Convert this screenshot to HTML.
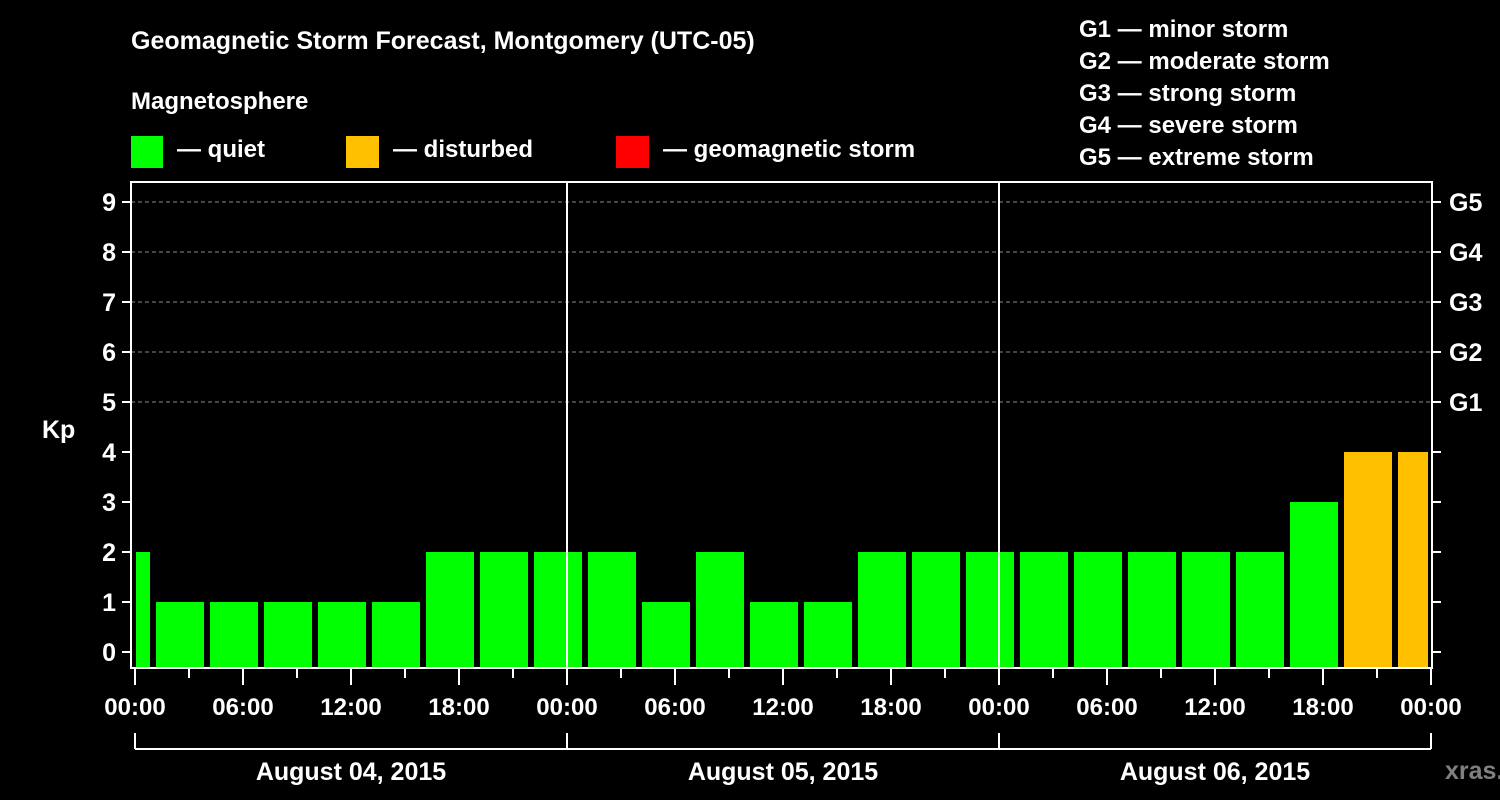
<!DOCTYPE html>
<html><head><meta charset="utf-8"><style>
body{margin:0;background:#000;width:1500px;height:800px;overflow:hidden}
svg{display:block;font-family:"Liberation Sans",sans-serif;font-weight:bold}
</style></head><body>
<svg id="chart" width="1500" height="800">
<text x="131" y="49" fill="#fff" font-size="25">Geomagnetic Storm Forecast, Montgomery (UTC-05)</text>
<text x="131" y="109" fill="#fff" font-size="24">Magnetosphere</text>
<g><rect x="131" y="136" width="32" height="32" fill="#00ff00"/><text x="177" y="157" fill="#fff" font-size="24">— quiet</text></g>
<g><rect x="346" y="136" width="33" height="32" fill="#ffc000"/><text x="393" y="157" fill="#fff" font-size="24">— disturbed</text></g>
<g><rect x="616" y="136" width="33" height="32" fill="#ff0000"/><text x="663" y="157" fill="#fff" font-size="24">— geomagnetic storm</text></g>
<g fill="#fff" font-size="24">
<text x="1079" y="37">G1 — minor storm</text><text x="1079" y="69">G2 — moderate storm</text><text x="1079" y="101">G3 — strong storm</text><text x="1079" y="133">G4 — severe storm</text><text x="1079" y="165">G5 — extreme storm</text></g>
<text x="42" y="438" fill="#fff" font-size="25">Kp</text>
<g id="grid"></g><g id="bars"></g><g id="axes"></g>
<text x="1445" y="779" fill="#808080" font-size="25">xras.ru</text>
</svg>
<script>
const kpValues=[2,1,1,1,1,1,2,2,2,2,1,2,1,1,2,2,2,2,2,2,2,2,3,4,4];
const dayLabels=["August 04, 2015","August 05, 2015","August 06, 2015"];
const hourLabels=["00:00","06:00","12:00","18:00"];
const gLabels=["G1","G2","G3","G4","G5"];
const NS="http://www.w3.org/2000/svg";
const X0=135,PXH=18,TOP=182,BOT=668,LEFT=131,RIGHT=1432;
const xs=h=>X0+h*PXH, ys=v=>652-v*50;
function mk(t,a,p){const e=document.createElementNS(NS,t);for(const k in a)e.setAttribute(k,a[k]);p.appendChild(e);return e;}
const grid=document.getElementById('grid'),bars=document.getElementById('bars'),axes=document.getElementById('axes');
for(let v=5;v<=9;v++){const l=mk('line',{x1:LEFT,x2:RIGHT,y1:ys(v),y2:ys(v),stroke:'#888','stroke-dasharray':'4,3','stroke-width':1},grid);

}
kpValues.forEach((v,i)=>{
 let s=i===0?0:(i-1)*3+1, e=i===0?1:s+3;
 let x1=xs(s)+3,x2=Math.min(xs(e)-3,RIGHT-4);
 if(i===0)x1=xs(0)+1;
 const r=mk('rect',{x:x1,y:ys(v),width:x2-x1,height:BOT-ys(v),fill:v>=5?'#ff0000':(v>=4?'#ffc000':'#00ff00')},bars);
 
 
});
mk('rect',{x:LEFT,y:TOP,width:RIGHT-LEFT,height:BOT-TOP,fill:'none',stroke:'#fff','stroke-width':2},axes);
for(let d=1;d<3;d++)mk('line',{x1:xs(24*d),x2:xs(24*d),y1:TOP,y2:BOT,stroke:'#fff','stroke-width':2},axes);
for(let v=0;v<=9;v++){
 mk('line',{x1:122,x2:LEFT,y1:ys(v),y2:ys(v),stroke:'#fff','stroke-width':2},axes);
 mk('line',{x1:RIGHT,x2:1441,y1:ys(v),y2:ys(v),stroke:'#fff','stroke-width':2},axes);
 const t=mk('text',{x:116,y:ys(v)+9,fill:'#fff','font-size':25,'text-anchor':'end'},axes);t.textContent=v;
 
 
}
gLabels.forEach((g,i)=>{const t=mk('text',{x:1449,y:ys(5+i)+9,fill:'#fff','font-size':25},axes);t.textContent=g;
 
 });
for(let h=0;h<=72;h+=3){const maj=h%6===0;mk('line',{x1:xs(h),x2:xs(h),y1:BOT,y2:maj?685:678,stroke:'#fff','stroke-width':2},axes);
 if(maj){const t=mk('text',{x:xs(h),y:715,fill:'#fff','font-size':24,'text-anchor':'middle'},axes);t.textContent=hourLabels[(h/6)%4];
 
 }}
mk('line',{x1:xs(0),x2:xs(72),y1:749,y2:749,stroke:'#fff','stroke-width':2},axes);
for(let d=0;d<=3;d++)mk('line',{x1:xs(24*d),x2:xs(24*d),y1:733,y2:749,stroke:'#fff','stroke-width':2},axes);
dayLabels.forEach((dl,i)=>{const t=mk('text',{x:xs(24*i+12),y:780,fill:'#fff','font-size':25,'text-anchor':'middle'},axes);t.textContent=dl;
 
 });
</script>
</body></html>
